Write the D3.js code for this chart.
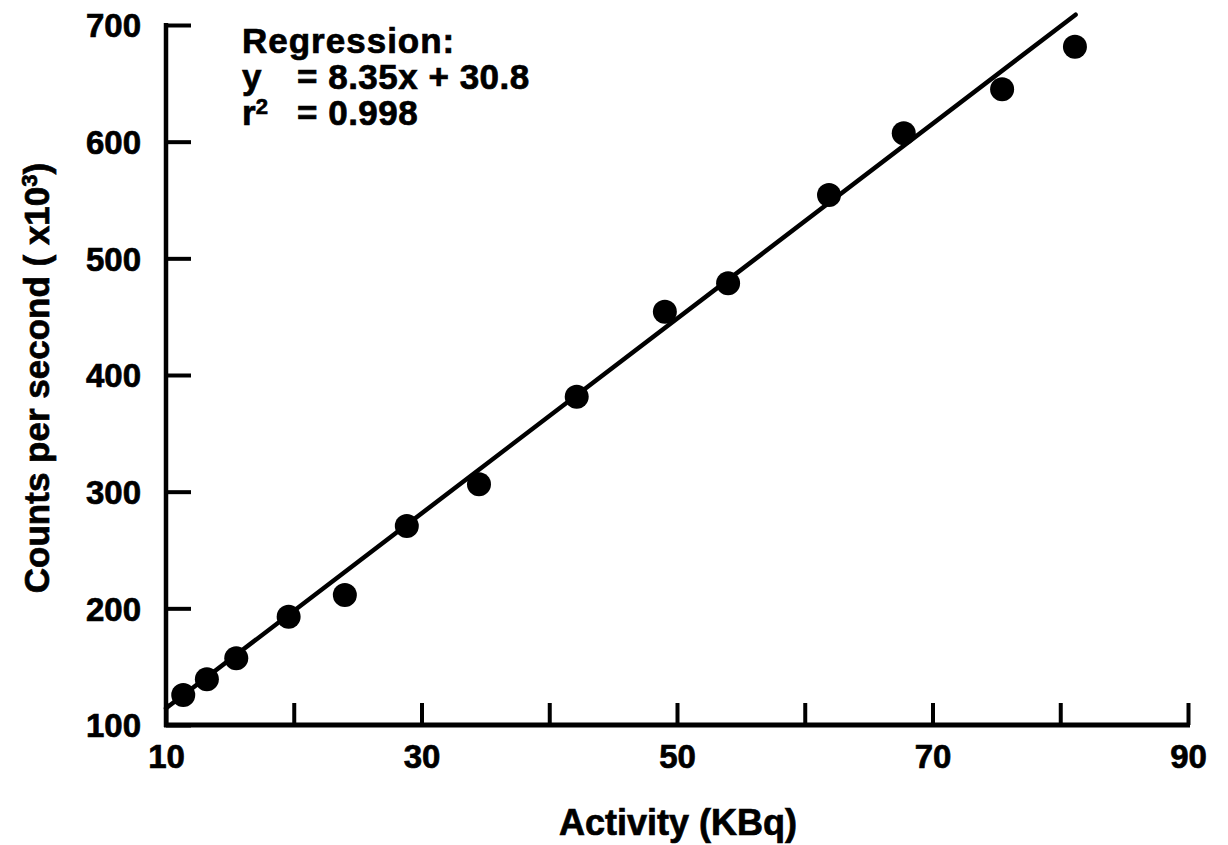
<!DOCTYPE html>
<html>
<head>
<meta charset="utf-8">
<script src="https://cdn.jsdelivr.net/npm/d3@7"></script>
<style>
  body { margin: 0; background: #fff; }
  svg { font-family: "Liberation Sans", Arial, sans-serif; font-weight: bold; }
  svg text { stroke: #000; stroke-width: 0.7px; }
  .axis path, .axis line { stroke: #000; }
  .axis text { fill: #000; font-size: 33px; font-weight: bold; font-family: "Liberation Sans", Arial, sans-serif; }
</style>
</head>
<body>
<div id="chart"></div>
<script>
// measured points (activity in KBq, counts per second x10^3)
const activity = [11.35, 13.2, 15.5, 19.6, 24.0, 28.85, 34.5, 42.15, 49.05, 54.0, 61.9, 67.75, 75.45, 81.15];
const counts   = [125.7, 139.2, 157.2, 192.8, 211.4, 270.6, 306.3, 381.4, 454.3, 478.6, 554.3, 607.2, 644.9, 681.4];

// regression y = 8.35x + 30.8, drawn over the data span
const slope = 8.35;
const intercept = 30.8;
const fitRange = [10, 81.2];

const xTicks = [10, 20, 30, 40, 50, 60, 70, 80, 90];
const xLabels = [10, 30, 50, 70, 90];
const yTicks = [100, 200, 300, 400, 500, 600, 700];

const config = { width: 1228, height: 845, left: 166, right: 1188, top: 25, bottom: 725 };

const svg = d3.select("#chart").append("svg")
  .attr("width", config.width)
  .attr("height", config.height);

const x = d3.scaleLinear().domain([10, 90]).range([config.left, config.right]);
const y = d3.scaleLinear().domain([100, 700]).range([config.bottom, config.top]);

// axes, ticks point inward
const xAxis = d3.axisBottom(x)
  .tickValues(xTicks)
  .tickSizeInner(-22)
  .tickSizeOuter(0)
  .tickPadding(20)
  .tickFormat(d => xLabels.includes(d) ? d : "");

const yAxis = d3.axisLeft(y)
  .tickValues(yTicks)
  .tickSizeInner(-25)
  .tickSizeOuter(0)
  .tickPadding(25);

svg.append("g")
  .attr("class", "axis")
  .attr("transform", `translate(0,${config.bottom})`)
  .call(xAxis)
  .call(g => g.select(".domain").attr("stroke-width", 5).attr("d", `M${config.left - 2},0H${config.right + 2}`))
  .call(g => g.selectAll(".tick line").attr("stroke-width", 4))
  .call(g => g.selectAll(".tick text").attr("dy", "0.71em"));

svg.append("g")
  .attr("class", "axis")
  .attr("transform", `translate(${config.left},0)`)
  .call(yAxis)
  .call(g => g.select(".domain").attr("stroke-width", 4.5).attr("d", `M0,${config.bottom + 2}V${config.top - 2}`))
  .call(g => g.selectAll(".tick line").attr("stroke-width", 4))
  .call(g => g.selectAll(".tick text").attr("dy", "0.36em"));

// regression line
svg.append("line")
  .attr("x1", x(fitRange[0]))
  .attr("y1", y(slope * fitRange[0] + intercept))
  .attr("x2", x(fitRange[1]))
  .attr("y2", y(slope * fitRange[1] + intercept))
  .attr("stroke", "#000")
  .attr("stroke-width", 4.5)
  .attr("stroke-linecap", "round");

// points
svg.append("g").selectAll("circle")
  .data(activity.map((a, i) => ({ a, c: counts[i] })))
  .join("circle")
  .attr("cx", d => x(d.a))
  .attr("cy", d => y(d.c))
  .attr("r", 12)
  .attr("fill", "#000");

// regression annotation
const note = svg.append("g").attr("font-size", 35).attr("fill", "#000");
note.append("text").attr("x", 242).attr("y", 53).attr("letter-spacing", 1).text("Regression:");
note.append("text").attr("x", 242).attr("y", 89).text("y");
note.append("text").attr("x", 297).attr("y", 89).attr("letter-spacing", 0.5).text("= 8.35x + 30.8");
const r2 = note.append("text").attr("x", 242).attr("y", 125);
r2.append("tspan").text("r");
r2.append("tspan").attr("font-size", 22).attr("dy", -11).text("2");
note.append("text").attr("x", 297).attr("y", 125).attr("letter-spacing", 0.5).text("= 0.998");

// axis titles
svg.append("text")
  .attr("x", 678)
  .attr("y", 835)
  .attr("text-anchor", "middle")
  .attr("font-size", 36)
  .text("Activity (KBq)");

const yTitle = svg.append("text")
  .attr("transform", "translate(49,378) rotate(-90)")
  .attr("text-anchor", "middle")
  .attr("font-size", 35);
yTitle.append("tspan").text("Counts per second ( x10");
yTitle.append("tspan").attr("font-size", 22).attr("dy", -12).text("3");
yTitle.append("tspan").attr("dy", 12).text(")");
</script>
</body>
</html>
